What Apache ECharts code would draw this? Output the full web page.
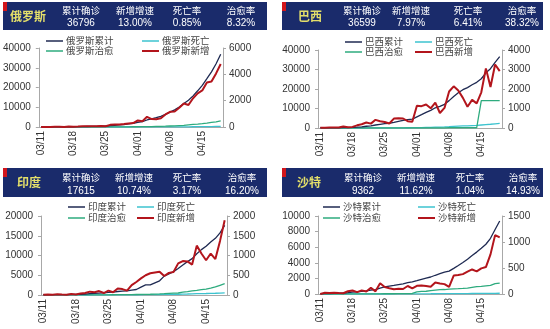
<!DOCTYPE html>
<html><head><meta charset="utf-8">
<script src="https://cdn.jsdelivr.net/npm/echarts@6/dist/echarts.min.js"></script>
<style>html,body{margin:0;padding:0;background:#fff}#c{width:550px;height:329px}</style>
</head><body><div id="c"></div>
<script>
const dates = ['03/11','03/12','03/13','03/14','03/15','03/16','03/17','03/18','03/19','03/20','03/21','03/22','03/23','03/24','03/25','03/26','03/27','03/28','03/29','03/30','03/31','04/01','04/02','04/03','04/04','04/05','04/06','04/07','04/08','04/09','04/10','04/11','04/12','04/13','04/14','04/15','04/16','04/17','04/18','04/19'];

// 俄罗斯
const ruCum = [20,28,34,45,59,63,93,114,147,199,253,306,367,438,495,658,840,1036,1264,1534,1836,2337,2777,3548,4149,4731,5389,6343,7497,8672,10131,11917,13584,15770,18328,21102,24490,27938,32008,36796];
const ruNew = [3,8,6,11,14,4,30,21,33,52,54,53,61,71,57,163,182,196,228,270,302,501,440,771,601,582,658,954,1154,1175,1459,1786,1667,2186,2558,2774,3388,3448,4070,4785];
const ruCured = [0,0,0,0,0,3,3,3,3,5,5,8,8,16,22,22,43,58,64,66,121,121,190,222,235,333,355,406,494,580,698,794,1045,1291,1470,1694,1986,2304,2590,3061];
const ruDeath = [0,0,0,0,0,0,0,0,0,1,1,1,1,1,1,3,4,4,8,9,17,17,24,30,34,43,45,47,58,63,76,94,106,130,148,170,198,232,273,313];

// 巴西
const brCum = [34,52,77,98,121,200,234,291,428,621,904,1128,1546,1891,2201,2433,2915,3417,3904,4256,4579,5717,6836,8044,9056,10360,11130,12161,14034,16170,18092,19638,20727,22169,23430,25262,28320,30425,33682,36599];
const brNew = [9,18,25,21,23,79,34,57,137,193,283,224,418,345,310,232,482,502,487,352,323,1138,1119,1208,1012,1304,770,1031,1873,2136,1922,1546,1089,1442,1261,1832,3058,2105,3257,2917];
const brCured = [0,0,0,0,0,0,0,0,0,0,0,0,0,0,0,0,0,0,0,0,0,2,2,2,2,2,2,2,127,127,127,127,127,127,127,14026,14026,14026,14026,14026];
const brDeath = [0,0,0,0,0,0,0,1,4,7,11,18,25,34,46,57,77,92,111,136,159,201,240,324,359,445,486,564,686,819,950,1057,1124,1223,1328,1532,1736,1924,2141,2347];

// 印度
const inCum = [62,73,82,102,113,119,142,156,194,244,330,396,499,536,657,727,887,987,1024,1251,1397,1998,2543,2567,3082,3588,4778,5311,5916,6725,7598,8446,9205,10453,11487,12322,13430,14352,15722,17615];
const inNew = [6,11,9,20,11,6,23,14,40,50,85,70,100,50,110,70,165,150,110,250,330,420,500,550,570,590,480,560,580,800,860,850,770,1250,1050,880,1050,910,1370,1893];
const inCured = [4,4,10,10,13,13,14,14,20,23,23,27,35,40,43,67,75,85,95,100,124,148,162,191,229,267,328,411,473,506,705,856,1035,1189,1359,1514,1767,2041,2463,2854];
const inDeath = [1,1,2,2,2,2,3,3,4,5,6,7,9,10,11,16,20,24,27,32,35,50,72,72,86,99,136,149,166,186,242,249,273,324,353,377,414,437,488,559];

// 沙特
const saCum = [21,45,62,86,103,118,171,238,274,344,392,511,562,767,900,1012,1104,1203,1299,1453,1563,1720,1885,2039,2179,2402,2605,2795,2932,3287,3651,4033,4462,4934,5369,5862,6380,7142,8274,9362];
const saNew = [1,24,17,24,17,15,53,67,36,70,48,119,51,205,133,112,92,99,96,154,110,157,165,154,140,223,203,190,137,355,364,382,429,472,435,493,518,762,1132,1088];
const saCured = [1,1,1,1,1,1,6,6,8,8,16,16,28,28,29,33,35,37,49,49,66,264,328,351,420,488,551,574,631,658,685,720,761,851,942,990,1049,1098,1329,1398];
const saDeath = [0,0,0,0,0,0,0,0,0,0,0,0,0,1,1,3,4,4,4,8,10,16,21,25,29,34,38,41,41,44,47,52,59,65,73,79,83,87,92,97];

// 表头
const statLabels = ['累计确诊','新增增速','死亡率','治愈率'];
const countries = ['俄罗斯','巴西','印度','沙特'];
const statValues = [
  ['36796','13.00%','0.85%','8.32%'],
  ['36599','7.97%','6.41%','38.32%'],
  ['17615','10.74%','3.17%','16.20%'],
  ['9362','11.62%','1.04%','14.93%']
];
const leftAxes = [[40000,10000],[40000,10000],[20000,5000],[10000,2000]];
const rightAxes = [[6000,2000],[4000,1000],[2000,500],[1500,500]];

const FONT = '"Liberation Sans","Noto Sans CJK SC",sans-serif';
const COL = {cum:'#1f2a52', death:'#3cc3cf', cured:'#2eab7e', nw:'#b3151c'};

const panels = [
  {grid:{left:37,top:48,width:186,height:79}, head:{x:3,y:2,w:264,h:28}, nameX:28, cols:[81,135,187,241], rowY:[10,23.5], leg:{x1:46,x2:142,y1:41,y2:51},
   data:[ruCum,ruDeath,ruCured,ruNew]},
  {grid:{left:318,top:50,width:184,height:78}, head:{x:282,y:2,w:261,h:28}, nameX:310, cols:[362,411,468,522], rowY:[10,23.5], leg:{x1:345,x2:415,y1:42,y2:52},
   data:[brCum,brDeath,brCured,brNew]},
  {grid:{left:41,top:216,width:186,height:79}, head:{x:3,y:168,w:264,h:29}, nameX:29, cols:[81,134,187,242], rowY:[177.5,191], leg:{x1:68,x2:137,y1:207,y2:218},
   data:[inCum,inDeath,inCured,inNew]},
  {grid:{left:318,top:216,width:184,height:78}, head:{x:282,y:168,w:261,h:29}, nameX:309, cols:[363,416,470,523], rowY:[177.5,191], leg:{x1:323,x2:418,y1:207,y2:218},
   data:[saCum,saDeath,saCured,saNew]}
];
const suffix = ['累计','死亡','治愈','新增'];
const colors = [COL.cum, COL.death, COL.cured, COL.nw];
const widths = [1.3,1.3,1.3,2];
const plain = v => String(v);

const grids=[], xAxes=[], yAxes=[], series=[], legends=[], graphics=[];
panels.forEach((p,k)=>{
  grids.push(Object.assign({containLabel:false}, p.grid));
  xAxes.push({type:'category', gridIndex:k, data:dates, boundaryGap:true,
    axisLine:{lineStyle:{color:'#a8a8a8',width:1}},
    axisTick:{alignWithLabel:true, interval:6, length:3, lineStyle:{color:'#a8a8a8'}},
    axisLabel:{interval:6, rotate:90, fontSize:10, color:'#333', margin:4, fontFamily:FONT},
    splitLine:{show:false}});
  yAxes.push({type:'value', gridIndex:k, position:'left', min:0, max:leftAxes[k][0], interval:leftAxes[k][1],
    axisLine:{show:true, lineStyle:{color:'#a8a8a8'}}, axisTick:{show:true,length:3,lineStyle:{color:'#a8a8a8'}},
    axisLabel:{fontSize:10, color:'#333', margin:8, fontFamily:FONT, formatter:plain}, splitLine:{show:false}});
  yAxes.push({type:'value', gridIndex:k, position:'right', min:0, max:rightAxes[k][0], interval:rightAxes[k][1],
    axisLine:{show:true, lineStyle:{color:'#a8a8a8'}}, axisTick:{show:true,length:3,lineStyle:{color:'#a8a8a8'}},
    axisLabel:{fontSize:10, color:'#333', margin:6, fontFamily:FONT, formatter:plain}, splitLine:{show:false}});
  suffix.forEach((s,j)=>{
    const name = countries[k]+s;
    series.push({type:'line', name, xAxisIndex:k, yAxisIndex: j===3 ? 2*k+1 : 2*k,
      data:p.data[j], symbol:'none', showSymbol:false, smooth:false, animation:false,
      lineStyle:{color:colors[j], width:widths[j]}, itemStyle:{color:colors[j]}, z: j===3?5:(j===0?4:3)});
    const lx = (j===0||j===2) ? p.leg.x1 : p.leg.x2;
    const ly = (j===0||j===1) ? p.leg.y1 : p.leg.y2;
    legends.push({data:[name], left:lx, top:ly-6, padding:0, icon:'rect', itemWidth:17, itemHeight: j===3?2:1.5, itemGap:0,
      selectedMode:false, itemStyle:{color:colors[j], borderWidth:0},
      textStyle:{fontSize:9.5, color:'#444', fontFamily:FONT, lineHeight:12, padding:[0,0,0,-2]}});
  });
  const h = p.head;
  graphics.push({type:'rect', shape:{x:h.x,y:h.y,width:h.w,height:h.h}, style:{fill:'#1a2b6b'}, z:10});
  graphics.push({type:'rect', shape:{x:h.x,y:h.y,width:4,height:9}, style:{fill:'#d2161c'}, z:11});
  graphics.push({type:'text', x:p.nameX, y:h.y+h.h/2, z:11,
    style:{text:countries[k], fill:'#e4df6a', font:'bold 12px "Noto Sans CJK SC",sans-serif', align:'center', verticalAlign:'middle'}});
  statLabels.forEach((t,i)=>{
    graphics.push({type:'text', x:p.cols[i], y:p.rowY[0], z:11,
      style:{text:t, fill:'#ffffff', font:'9.5px "Noto Sans CJK SC",sans-serif', align:'center', verticalAlign:'middle'}});
    graphics.push({type:'text', x:p.cols[i], y:p.rowY[1], z:11,
      style:{text:statValues[k][i], fill:'#ffffff', font:'10px "Liberation Sans",sans-serif', align:'center', verticalAlign:'middle'}});
  });
});

const chart = echarts.init(document.getElementById('c'), null, {renderer:'canvas'});
chart.setOption({animation:false, textStyle:{fontFamily:FONT}, grid:grids, xAxis:xAxes, yAxis:yAxes, series, legend:legends, graphic:{elements:graphics}});
</script></body></html>
